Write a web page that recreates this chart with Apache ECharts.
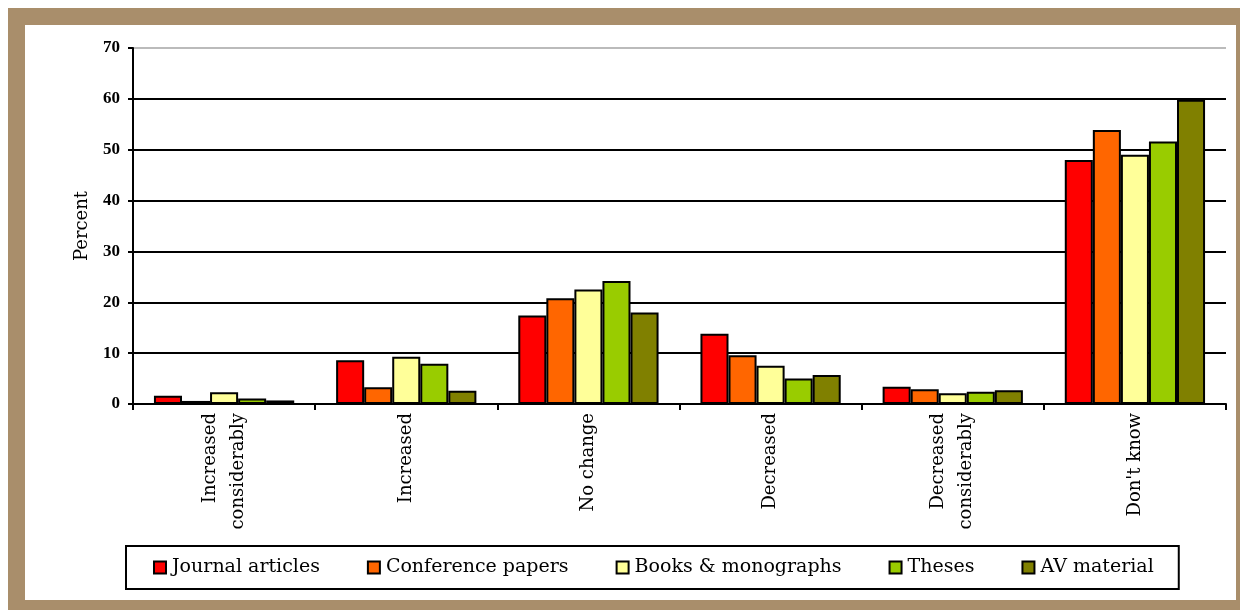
<!DOCTYPE html>
<html><head><meta charset="utf-8">
<script src="https://cdn.jsdelivr.net/npm/echarts@6/dist/echarts.min.js"></script>
<style>html,body{margin:0;padding:0;background:#fff}#c{width:1240px;height:610px}</style>
</head><body><div id="c"></div>
<script>
const categories = ['Increased\nconsiderably', 'Increased', 'No change', 'Decreased', 'Decreased\nconsiderably', "Don't know"];
const seriesNames = ['Journal articles', 'Conference papers', 'Books & monographs', 'Theses', 'AV material'];
const journalArticles = [1.6, 8.6, 17.4, 13.8, 3.4, 48.0];
const conferencePapers = [0.6, 3.3, 20.8, 9.6, 2.9, 53.9];
const booksMonographs = [2.3, 9.3, 22.5, 7.5, 2.1, 49.0];
const theses = [1.1, 7.9, 24.2, 5.0, 2.4, 51.6];
const avMaterial = [0.7, 2.6, 18.0, 5.7, 2.7, 59.8];
const yTicks = [0, 10, 20, 30, 40, 50, 60, 70];

const colors = ['#FF0000', '#FF6600', '#FFFF99', '#99CC00', '#808000'];
const values = [journalArticles, conferencePapers, booksMonographs, theses, avMaterial];
const serif = '"DejaVu Serif", "Liberation Serif", serif';
const serif2 = '"Liberation Serif", serif';

const chart = echarts.init(document.getElementById('c'), null, {renderer: 'canvas'});
chart.setOption({
  backgroundColor: '#ffffff',
  animation: false,
  graphic: [
    {type: 'rect', z: -10, silent: true, shape: {x: 8, y: 8, width: 1232, height: 602}, style: {fill: '#A98E6B'}},
    {type: 'rect', z: -9, silent: true, shape: {x: 25, y: 25, width: 1211, height: 575}, style: {fill: '#ffffff'}}
  ],
  grid: {left: 133, top: 48, right: 14, bottom: 206, containLabel: false},
  legend: {
    data: seriesNames,
    left: 126, top: 546,
    padding: [12, 25, 12, 27],
    borderColor: '#000', borderWidth: 2,
    itemGap: 47, itemWidth: 12, itemHeight: 12,
    icon: 'rect',
    textStyle: {fontFamily: serif, fontSize: 19, color: '#000', padding: [0, 0, 0, 1]},
    itemStyle: {borderColor: '#000', borderWidth: 2}
  },
  xAxis: {
    type: 'category',
    data: categories,
    boundaryGap: true,
    axisLine: {lineStyle: {color: '#000', width: 2}},
    axisTick: {show: true, alignWithLabel: false, length: 6, lineStyle: {color: '#000', width: 2}},
    axisLabel: {rotate: 90, margin: 9, fontFamily: serif, fontSize: 18, lineHeight: 28, color: '#000'}
  },
  yAxis: {
    type: 'value',
    min: yTicks[0], max: yTicks[yTicks.length - 1], interval: 10,
    name: 'Percent', nameLocation: 'middle', nameGap: 42, nameRotate: 90,
    nameTextStyle: {fontFamily: serif, fontSize: 18, color: '#000'},
    axisLine: {show: true, lineStyle: {color: '#000', width: 2}},
    axisTick: {show: true, length: 5, lineStyle: {color: '#000', width: 2}},
    axisLabel: {margin: 13, fontFamily: serif2, fontSize: 17, fontWeight: 'bold', color: '#000'},
    splitLine: {show: true, lineStyle: {color: ['#000', '#000', '#000', '#000', '#000', '#000', '#000', '#bbbbbb'], width: 2}}
  },
  series: seriesNames.map((n, i) => ({
    name: n, type: 'bar', data: values[i],
    barGap: '0%', barCategoryGap: '23%',
    itemStyle: {color: colors[i], borderColor: '#000', borderWidth: 2}
  }))
});
</script></body></html>
